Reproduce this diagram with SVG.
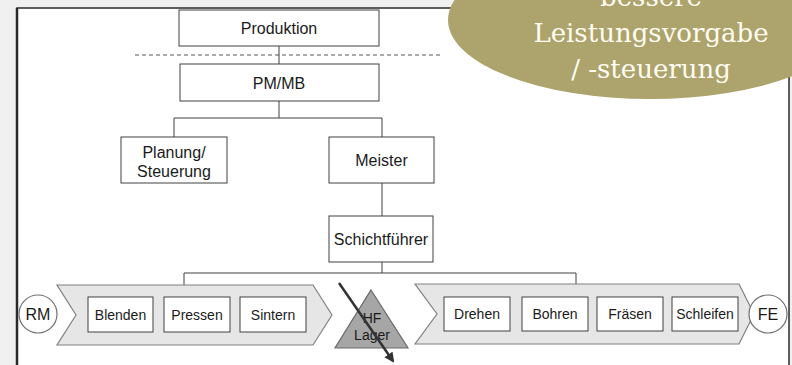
<svg xmlns="http://www.w3.org/2000/svg" width="792" height="365" viewBox="0 0 792 365">
  <style>
    .box { fill: #ffffff; stroke: #404040; stroke-width: 1; }
    .t16 { font-family: "Liberation Sans", Arial, sans-serif; font-size: 16px; fill: #1a1a1a; text-anchor: middle; }
    .t14 { font-family: "Liberation Sans", Arial, sans-serif; font-size: 14px; fill: #1a1a1a; text-anchor: middle; }
    .conn { fill: none; stroke: #404040; stroke-width: 1; }
    .chev { fill: #e6e6e6; stroke: #808080; stroke-width: 1.2; }
    .circ { fill: #ffffff; stroke: #707070; stroke-width: 1.2; }
    .callout { font-family: "DejaVu Serif", "Liberation Serif", serif; font-size: 26px; fill: #fffdf2; text-anchor: middle; }
  </style>
  <defs>
    <marker id="arrowhead" viewBox="0 0 10 10" refX="8" refY="5" markerWidth="4" markerHeight="4" orient="auto">
      <path d="M0,0 L10,5 L0,10 z" fill="#333333"/>
    </marker>
  </defs>

  <!-- background & frame -->
  <rect x="0" y="0" width="792" height="365" fill="#f0f0f0"/>
  <rect x="17" y="8" width="772" height="400" fill="#ffffff" stroke="#2a2a2a" stroke-width="1.5"/>
  <line x1="17" y1="8" x2="17" y2="365" stroke="#2a2a2a" stroke-width="2.5"/>

  <!-- dashed separator -->
  <line x1="135" y1="55" x2="443" y2="55" stroke="#555555" stroke-width="1" stroke-dasharray="4 3"/>

  <!-- connectors -->
  <g id="connectors">
    <line class="conn" x1="279" y1="46" x2="279" y2="64"/>
    <polyline class="conn" points="279,101 279,118"/>
    <polyline class="conn" points="174,137 174,118 382,118 382,137"/>
    <line class="conn" x1="382" y1="183" x2="382" y2="216"/>
    <line class="conn" x1="382" y1="262" x2="382" y2="273"/>
    <polyline class="conn" points="184,285 184,273 576,273 576,284"/>
  </g>

  <!-- org nodes -->
  <g id="produktion">
    <rect class="box" x="179" y="10" width="200" height="36"/>
    <text class="t16" x="279" y="34">Produktion</text>
  </g>
  <g id="pmmb">
    <rect class="box" x="180" y="64" width="199" height="37"/>
    <text class="t16" x="279" y="89">PM/MB</text>
  </g>
  <g id="planung">
    <rect class="box" x="121" y="137" width="106" height="46"/>
    <text class="t16" x="174" y="158">Planung/</text>
    <text class="t16" x="174" y="177">Steuerung</text>
  </g>
  <g id="meister">
    <rect class="box" x="329" y="137" width="105" height="46"/>
    <text class="t16" x="381.5" y="166">Meister</text>
  </g>
  <g id="schichtfuehrer">
    <rect class="box" x="329" y="216" width="104" height="46"/>
    <text class="t16" x="381" y="245">Schichtführer</text>
  </g>

  <!-- process chevrons -->
  <g id="chevron-left">
    <polygon class="chev" points="57,285 313,285 332,315 313,345 57,345 76,315"/>
  </g>
  <g id="chevron-right">
    <polygon class="chev" points="415,284 739,284 754,314 739,344 415,344 437,314"/>
  </g>

  <g id="rm">
    <circle class="circ" cx="38" cy="314" r="19"/>
    <text class="t16" x="38" y="320">RM</text>
  </g>
  <g id="blenden">
    <rect class="box" x="88" y="297" width="65" height="35"/>
    <text class="t14" x="120.5" y="319.5">Blenden</text>
  </g>
  <g id="pressen">
    <rect class="box" x="164" y="297" width="66" height="35"/>
    <text class="t14" x="197" y="319.5">Pressen</text>
  </g>
  <g id="sintern">
    <rect class="box" x="240" y="297" width="66" height="35"/>
    <text class="t14" x="273" y="319.5">Sintern</text>
  </g>

  <g id="hf-lager">
    <polygon points="371,290 408,348 335,348" fill="#a6a6a6" stroke="#6a6a6a" stroke-width="1.2"/>
    <text class="t14" x="372" y="323">HF</text>
    <text class="t14" x="372" y="340">Lager</text>
  </g>

  <g id="drehen">
    <rect class="box" x="444" y="297" width="66" height="34"/>
    <text class="t14" x="477" y="319">Drehen</text>
  </g>
  <g id="bohren">
    <rect class="box" x="522" y="297" width="66" height="34"/>
    <text class="t14" x="555" y="319">Bohren</text>
  </g>
  <g id="fraesen">
    <rect class="box" x="597" y="297" width="66" height="34"/>
    <text class="t14" x="630" y="319">Fräsen</text>
  </g>
  <g id="schleifen">
    <rect class="box" x="672" y="297" width="66" height="34"/>
    <text class="t14" x="705" y="319">Schleifen</text>
  </g>
  <g id="fe">
    <circle class="circ" cx="768" cy="314" r="19"/>
    <text class="t16" x="768" y="320">FE</text>
  </g>

  <!-- strike arrow across HF Lager -->
  <g id="strike-arrow">
    <line x1="339" y1="283" x2="393" y2="361" stroke="#333333" stroke-width="2.5" marker-end="url(#arrowhead)"/>
  </g>

  <!-- callout ellipse -->
  <g id="callout">
    <ellipse cx="650" cy="20" rx="202" ry="79" fill="#ada36c"/>
    <text class="callout" x="651" y="6">bessere</text>
    <text class="callout" x="651" y="42">Leistungsvorgabe</text>
    <text class="callout" x="651" y="78">/ -steuerung</text>
  </g>
</svg>
